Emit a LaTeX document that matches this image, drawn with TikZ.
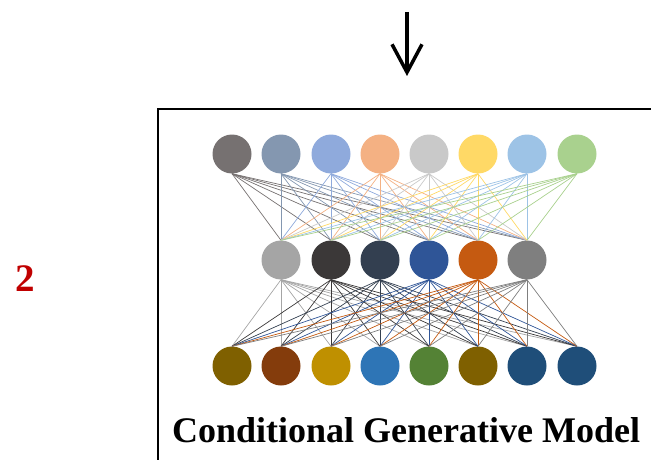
\documentclass[tikz,border=0pt]{standalone}
\usepackage{fontspec}
\setmainfont{Liberation Serif}
\usetikzlibrary{arrows.meta}

\definecolor{num}{HTML}{C00000}
\definecolor{a1}{HTML}{767171}
\definecolor{a2}{HTML}{8497B0}
\definecolor{a3}{HTML}{8FAADC}
\definecolor{a4}{HTML}{F4B183}
\definecolor{a5}{HTML}{C9C9C9}
\definecolor{a6}{HTML}{FFD966}
\definecolor{a7}{HTML}{9DC3E6}
\definecolor{a8}{HTML}{A9D18E}
\definecolor{b2}{HTML}{A5A5A5}
\definecolor{b3}{HTML}{3B3838}
\definecolor{b4}{HTML}{333F50}
\definecolor{b5}{HTML}{2F5597}
\definecolor{b6}{HTML}{C55A11}
\definecolor{b7}{HTML}{7F7F7F}
\definecolor{c1}{HTML}{7F6000}
\definecolor{c2}{HTML}{843C0C}
\definecolor{c3}{HTML}{BF9000}
\definecolor{c4}{HTML}{2E75B6}
\definecolor{c5}{HTML}{548235}
\definecolor{c6}{HTML}{7F6000}
\definecolor{c7}{HTML}{1F4E79}
\definecolor{c8}{HTML}{1F4E79}

\begin{document}
\begin{tikzpicture}[x=1pt,y=-1pt,
    neuron/.style={circle,minimum size=39pt,inner sep=0pt},
    link/.style={line width=0.7pt}]
  \useasboundingbox (0,0) rectangle (651,460);

  \node [text=num, font=\bfseries\fontsize{39}{44}\selectfont] (step) at (25,279) {2};

  \coordinate (in1) at (407,12);
  \coordinate (in2) at (407,76);
  \draw [line width=3.5pt, -{Straight Barb[length=28pt,width=30pt,line width=3.5pt]}] (in1) -- (in2);

  \draw [line width=1.5pt] (158,470) |- (660,109);

  \node [neuron, fill=a1] (a1) at (232,154) {};
  \node [neuron, fill=a2] (a2) at (281,154) {};
  \node [neuron, fill=a3] (a3) at (331,154) {};
  \node [neuron, fill=a4] (a4) at (380,154) {};
  \node [neuron, fill=a5] (a5) at (429,154) {};
  \node [neuron, fill=a6] (a6) at (478,154) {};
  \node [neuron, fill=a7] (a7) at (527,154) {};
  \node [neuron, fill=a8] (a8) at (577,154) {};

  \node [neuron, fill=b2] (b2) at (281,260) {};
  \node [neuron, fill=b3] (b3) at (331,260) {};
  \node [neuron, fill=b4] (b4) at (380,260) {};
  \node [neuron, fill=b5] (b5) at (429,260) {};
  \node [neuron, fill=b6] (b6) at (478,260) {};
  \node [neuron, fill=b7] (b7) at (527,260) {};

  \node [neuron, fill=c1] (c1) at (232,366) {};
  \node [neuron, fill=c2] (c2) at (281,366) {};
  \node [neuron, fill=c3] (c3) at (331,366) {};
  \node [neuron, fill=c4] (c4) at (380,366) {};
  \node [neuron, fill=c5] (c5) at (429,366) {};
  \node [neuron, fill=c6] (c6) at (478,366) {};
  \node [neuron, fill=c7] (c7) at (527,366) {};
  \node [neuron, fill=c8] (c8) at (577,366) {};

  % fully connected layers
  \foreach \i in {1,...,8}
    \foreach \j in {2,...,7}
      \draw [link, draw=a\i] (a\i.south) -- (b\j.north);
  \foreach \j in {2,...,7}
    \foreach \k in {1,...,8}
      \draw [link, draw=b\j] (b\j.south) -- (c\k.north);

  \node [font=\bfseries\fontsize{36}{40}\selectfont, anchor=base] (title) at (406,442) {Conditional Generative Model};
\end{tikzpicture}
\end{document}
